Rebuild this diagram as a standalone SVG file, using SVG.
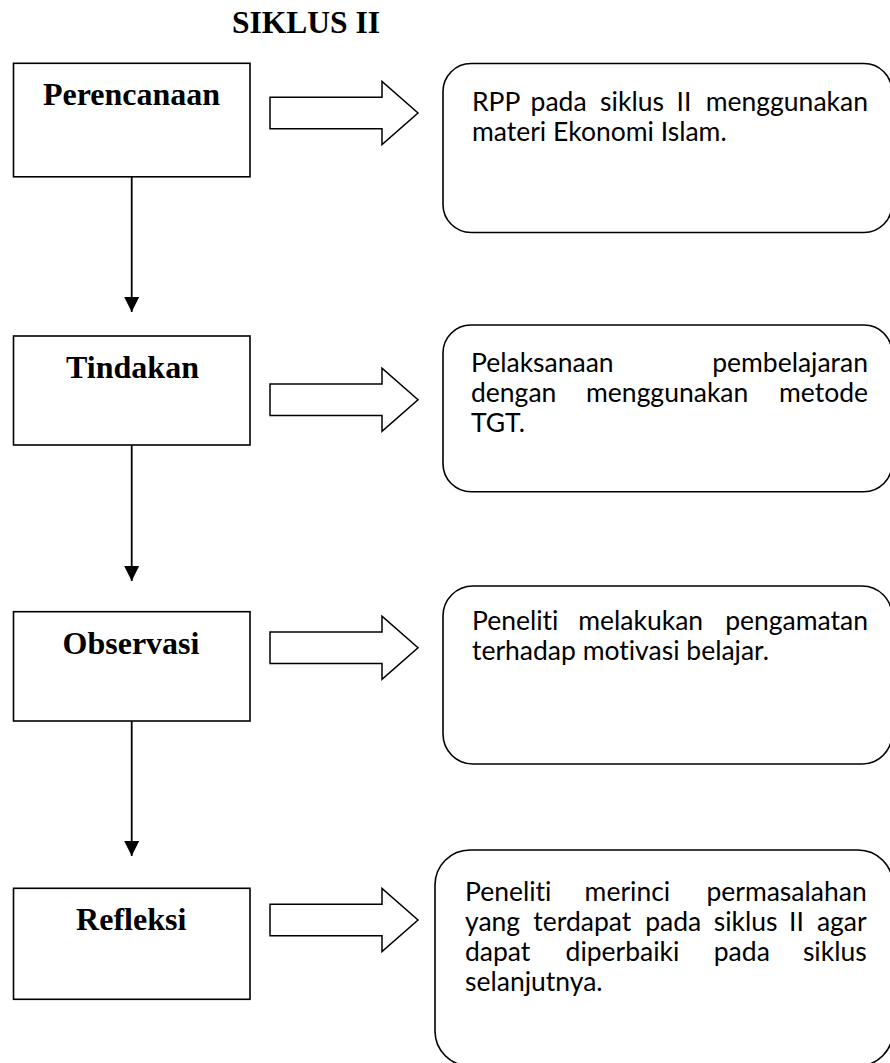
<svg xmlns="http://www.w3.org/2000/svg" width="890" height="1063" viewBox="0 0 890 1063">
<style>
.box{fill:#fff;stroke:#000;stroke-width:1.6}
.rbox{fill:#fff;stroke:#000;stroke-width:1.6}
.lbl{font-family:"Liberation Serif","Times New Roman",serif;font-weight:bold;font-size:32px;fill:#000}
.txt{font-family:Lato,"Open Sans",sans-serif;font-size:26.5px;fill:#000;font-variant-ligatures:none;font-feature-settings:"liga" 0,"clig" 0}
.e{text-anchor:end}
.m{text-anchor:middle}
.conn{stroke:#000;stroke-width:1.8;fill:none}
.blk{fill:#fff;stroke:#000;stroke-width:1.5;stroke-linejoin:miter}
</style>
<defs>
<marker id="ah" markerWidth="16" markerHeight="16" viewBox="0 0 16 16" refX="15" refY="8" orient="auto" markerUnits="userSpaceOnUse">
<path d="M0,0.5 L15,8 L0,15.5 Z" fill="#000"/>
</marker>
<path id="blockArrow" d="M270,-15.8 H382 V-31.6 L418,0 L382,31.6 V15.8 H270 Z"/>
</defs>

<text class="lbl" x="306" y="33" text-anchor="middle" style="font-size:31.5px">SIKLUS II</text>

<g id="connectors">
<line class="conn" x1="131.7" y1="177" x2="131.7" y2="312" marker-end="url(#ah)"/>
<line class="conn" x1="131.7" y1="445" x2="131.7" y2="581" marker-end="url(#ah)"/>
<line class="conn" x1="131.7" y1="721" x2="131.7" y2="856" marker-end="url(#ah)"/>
<use href="#blockArrow" class="blk" transform="translate(0,113)"/>
<use href="#blockArrow" class="blk" transform="translate(0,399.7)"/>
<use href="#blockArrow" class="blk" transform="translate(0,647.7)"/>
<use href="#blockArrow" class="blk" transform="translate(0,920)"/>
</g>

<g id="perencanaan">
<rect class="box" x="13.5" y="63.3" width="236.5" height="113.5"/>
<text class="lbl m" x="131.5" y="105">Perencanaan</text>
</g>
<g id="tindakan">
<rect class="box" x="13.5" y="336" width="236.5" height="109"/>
<text class="lbl m" x="132.5" y="377.7">Tindakan</text>
</g>
<g id="observasi">
<rect class="box" x="13.5" y="611.7" width="236.5" height="109.3"/>
<text class="lbl m" x="131" y="654.3">Observasi</text>
</g>
<g id="refleksi">
<rect class="box" x="13.5" y="888.3" width="236.5" height="111"/>
<text class="lbl m" x="131.2" y="930">Refleksi</text>
</g>

<g id="desc-perencanaan">
<rect class="rbox" x="443" y="63.5" width="449" height="169" rx="28" ry="28"/>
<text class="txt" x="472" y="111">RPP</text>
<text class="txt m" x="558.6" y="111">pada</text>
<text class="txt m" x="632" y="111">siklus</text>
<text class="txt m" x="683.9" y="111">II</text>
<text class="txt e" x="868" y="111">menggunakan</text>
<text class="txt" x="472" y="141">materi Ekonomi Islam.</text>
</g>

<g id="desc-tindakan">
<rect class="rbox" x="443" y="325" width="449" height="166.7" rx="28" ry="28"/>
<text class="txt" x="471" y="372">Pelaksanaan</text>
<text class="txt e" x="868" y="372">pembelajaran</text>
<text class="txt" x="471" y="402">dengan</text>
<text class="txt m" x="667.2" y="402">menggunakan</text>
<text class="txt e" x="868" y="402">metode</text>
<text class="txt" x="471" y="432">TGT.</text>
</g>

<g id="desc-observasi">
<rect class="rbox" x="443" y="586" width="449" height="178" rx="30" ry="30"/>
<text class="txt" x="472" y="630">Peneliti</text>
<text class="txt m" x="640.7" y="630">melakukan</text>
<text class="txt e" x="868" y="630">pengamatan</text>
<text class="txt" x="472" y="660">terhadap motivasi belajar.</text>
</g>

<g id="desc-refleksi">
<rect class="rbox" x="435" y="850" width="458" height="216" rx="35" ry="35"/>
<text class="txt" x="465" y="901">Peneliti</text>
<text class="txt m" x="627.4" y="901">merinci</text>
<text class="txt e" x="866.7" y="901">permasalahan</text>
<text class="txt" x="465" y="931">yang</text>
<text class="txt m" x="582.3" y="931">terdapat</text>
<text class="txt m" x="673.2" y="931">pada</text>
<text class="txt m" x="745.6" y="931">siklus</text>
<text class="txt m" x="796.5" y="931">II</text>
<text class="txt e" x="866.7" y="931">agar</text>
<text class="txt" x="465" y="961">dapat</text>
<text class="txt m" x="622.5" y="961">diperbaiki</text>
<text class="txt m" x="741.8" y="961">pada</text>
<text class="txt e" x="866.7" y="961">siklus</text>
<text class="txt" x="465" y="991">selanjutnya.</text>
</g>
</svg>
